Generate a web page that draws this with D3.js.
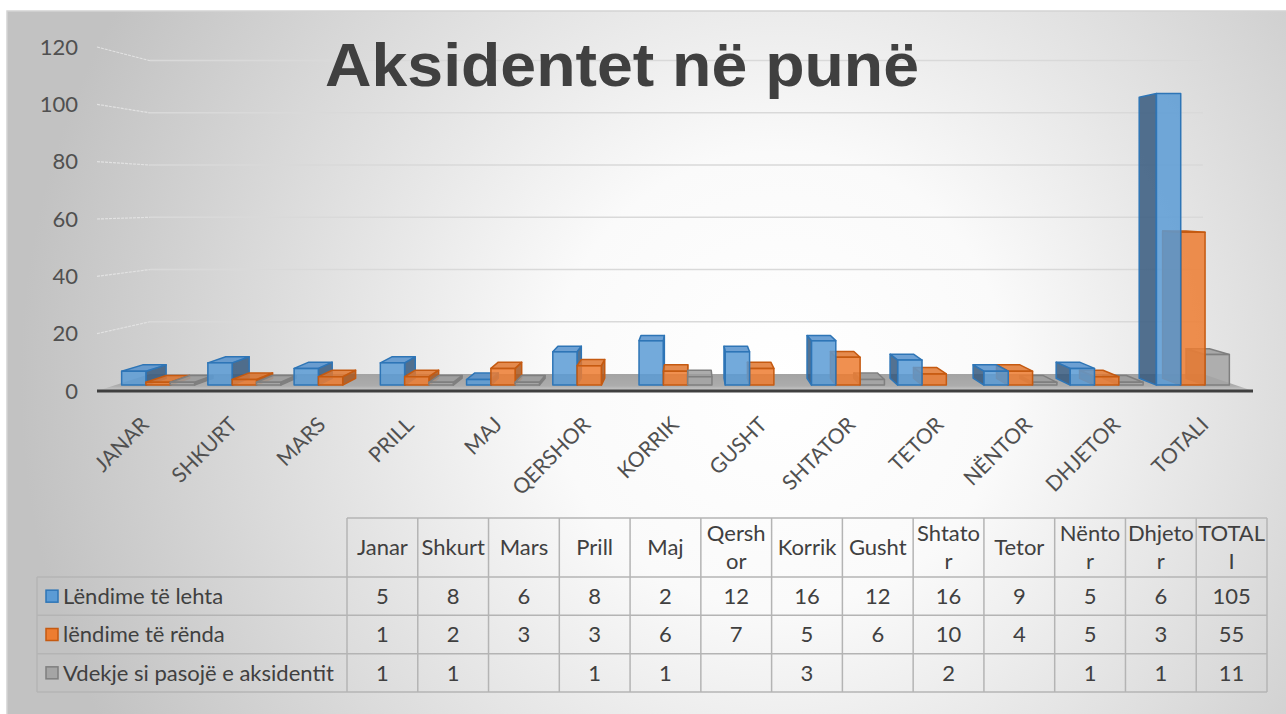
<!DOCTYPE html>
<html>
<head>
<meta charset="utf-8">
<script src="https://cdn.jsdelivr.net/npm/d3@7"></script>
<style>
  body { margin: 0; background: #fff; }
  svg { display: block; }
</style>
</head>
<body>
<svg id="chart" width="1286" height="714"></svg>
<script>
const categories = ["Janar", "Shkurt", "Mars", "Prill", "Maj", "Qershor", "Korrik", "Gusht", "Shtator", "Tetor", "Nëntor", "Dhjetor", "TOTALI"];
// header texts as wrapped in the data table
const tableHeaders = ["Janar", "Shkurt", "Mars", "Prill", "Maj", "Qersh\nor", "Korrik", "Gusht", "Shtato\nr", "Tetor", "Nënto\nr", "Dhjeto\nr", "TOTAL\nI"];
const seriesNames = ["Lëndime të lehta", "lëndime të rënda", "Vdekje si pasojë e aksidentit"];
const lehta = [5, 8, 6, 8, 2, 12, 16, 12, 16, 9, 5, 6, 105];
const renda = [1, 2, 3, 3, 6, 7, 5, 6, 10, 4, 5, 3, 55];
const vdekje = [1, 1, null, 1, 1, null, 3, null, 2, null, 1, 1, 11];
const yTicks = [0, 20, 40, 60, 80, 100, 120];

const seriesValues = [lehta, renda, vdekje];
const colors = [
    {front: "#5b9bd5", top: "#5590cc", side: "#36597e", stroke: "#2e75b6"},
    {front: "#ed7d31", top: "#e0772f", side: "#a9571f", stroke: "#c55a11"},
    {front: "#a5a5a5", top: "#9e9e9e", side: "#7a7a7a", stroke: "#7f7f7f"}
];

const svg = d3.select("#chart");

// background
const defs = svg.append("defs");
const bg = defs.append("radialGradient")
    .attr("id", "bg")
    .attr("gradientUnits", "userSpaceOnUse")
    .attr("cx", 780).attr("cy", 380).attr("r", 760);
bg.append("stop").attr("offset", "0").attr("stop-color", "#ffffff");
bg.append("stop").attr("offset", "0.3").attr("stop-color", "#fafafa");
bg.append("stop").attr("offset", "1").attr("stop-color", "#c2c2c2");

const floorGrad = defs.append("linearGradient")
    .attr("id", "floor").attr("x1", 0).attr("y1", 0).attr("x2", 0).attr("y2", 1);
floorGrad.append("stop").attr("offset", "0").attr("stop-color", "#a3a3a3");
floorGrad.append("stop").attr("offset", "0.7").attr("stop-color", "#acacac");
floorGrad.append("stop").attr("offset", "1").attr("stop-color", "#cfcfcf");

svg.append("rect")
    .attr("x", 7).attr("y", 11)
    .attr("width", 1290).attr("height", 720)
    .attr("fill", "url(#bg)")
    .attr("stroke", "#d4d4d4")
    .attr("stroke-width", 1.5);

// perspective: vanishing point and depth factors
const vp = {x: 691, y: 200};
const sBar = 0.969;   // bar front plane
const sDepth = 0.963; // bar back relative to its front
const sWall = 0.911;  // back wall
const proj = (x, y, s) => [vp.x + (x - vp.x) * s, vp.y + (y - vp.y) * s];

const yFront = d3.scaleLinear().domain([0, 120]).range([391, 47]);
const yBar = v => proj(0, yFront(v), sBar)[1];
const yWall = v => proj(0, yFront(v), sWall)[1];

const floorLeft = 97, floorRight = 1253;
const wallLeft = proj(floorLeft, 0, sWall)[0];
const wallRight = proj(floorRight, 0, sWall)[0];

// gridlines on back wall and left side wall
const grid = svg.append("g");
yTicks.filter(v => v > 0).forEach(v => {
    grid.append("line")
        .attr("x1", floorLeft).attr("y1", yFront(v))
        .attr("x2", wallLeft).attr("y2", yWall(v))
        .attr("stroke", "#e2e2e2").attr("stroke-width", 1.2)
        .attr("stroke-dasharray", "3,1");
    grid.append("line")
        .attr("x1", wallLeft).attr("y1", yWall(v))
        .attr("x2", wallRight).attr("y2", yWall(v))
        .attr("stroke", "#d9d9d9").attr("stroke-width", 1.5);
});

// floor
svg.append("path")
    .attr("d", d3.line()([
        [floorLeft, yFront(0)], [floorRight, yFront(0)],
        [wallRight, yWall(0)], [wallLeft, yWall(0)]
    ]) + "Z")
    .attr("fill", "url(#floor)");

// title
svg.append("text")
    .attr("x", 622).attr("y", 86)
    .attr("text-anchor", "middle")
    .attr("font-family", "'Liberation Sans', Arial, sans-serif")
    .attr("font-weight", "bold")
    .attr("font-size", 61)
    .attr("textLength", 594)
    .attr("lengthAdjust", "spacingAndGlyphs")
    .attr("fill", "#404040")
    .text("Aksidentet në punë");

// y axis labels
svg.append("g").selectAll("text")
    .data(yTicks)
    .join("text")
    .attr("x", 78)
    .attr("y", d => yFront(d))
    .attr("dy", "0.35em")
    .attr("text-anchor", "end")
    .attr("font-family", "Lato, sans-serif")
    .attr("font-size", 22)
    .attr("fill", "#505050")
    .text(d => d);

// bars (x scales in the bar front plane)
const x0 = d3.scaleBand()
    .domain(categories)
    .range([115, 1236])
    .paddingInner(0.154)
    .paddingOuter(0.077);
const x1 = d3.scaleBand()
    .domain(d3.range(seriesNames.length))
    .range([0, x0.bandwidth()]);

const bars = [];
categories.forEach((c, i) => {
    seriesValues.forEach((vals, j) => {
        const v = vals[i];
        if (v == null) return;
        const xl = x0(c) + x1(j);
        bars.push({j, v, xl, xr: xl + x1.bandwidth()});
    });
});
bars.sort((a, b) => Math.abs((b.xl + b.xr) / 2 - vp.x) - Math.abs((a.xl + a.xr) / 2 - vp.x));

const barG = svg.append("g");
bars.forEach(b => {
    const col = colors[b.j];
    const yt = yBar(b.v), yb = yBar(0);
    const back = (x, y) => proj(x, y, sDepth);
    const g = barG.append("g")
        .attr("stroke", col.stroke)
        .attr("stroke-width", 1.5)
        .attr("stroke-linejoin", "round")
        .attr("fill-opacity", 0.85);
    if (b.xr < vp.x) {
        g.append("path")
            .attr("d", d3.line()([[b.xr, yt], [b.xr, yb], back(b.xr, yb), back(b.xr, yt)]) + "Z")
            .attr("fill", col.side);
    } else if (b.xl > vp.x) {
        g.append("path")
            .attr("d", d3.line()([[b.xl, yt], [b.xl, yb], back(b.xl, yb), back(b.xl, yt)]) + "Z")
            .attr("fill", col.side);
    }
    if (yt > vp.y) {
        g.append("path")
            .attr("d", d3.line()([[b.xl, yt], [b.xr, yt], back(b.xr, yt), back(b.xl, yt)]) + "Z")
            .attr("fill", col.top);
    }
    g.append("rect")
        .attr("x", b.xl).attr("y", yt)
        .attr("width", b.xr - b.xl).attr("height", yb - yt)
        .attr("fill", col.front);
});

// floor front edge
svg.append("line")
    .attr("x1", floorLeft).attr("y1", yFront(0))
    .attr("x2", floorRight).attr("y2", yFront(0))
    .attr("stroke", "#3f3f3f").attr("stroke-width", 3);

// category axis labels
const xLabel = d3.scaleBand().domain(categories).range([106, 1254]);
svg.append("g").selectAll("text")
    .data(categories)
    .join("text")
    .attr("transform", d => `translate(${xLabel(d) + xLabel.bandwidth() / 2},426) rotate(-45)`)
    .attr("text-anchor", "end")
    .attr("font-family", "Lato, sans-serif")
    .attr("font-size", 21)
    .attr("fill", "#505050")
    .text(d => d.toUpperCase());

// data table
const tx = d3.scaleBand().domain(categories).range([347, 1267]);
const ty = d3.scaleBand().domain(seriesNames).range([577, 692]);
const headTop = 518, labelLeft = 37;
const tableStroke = "#b4b4b4";
const table = svg.append("g")
    .attr("font-family", "Lato, sans-serif")
    .attr("font-size", 22)
    .attr("fill", "#404040");

const lines = table.append("g").attr("stroke", tableStroke).attr("stroke-width", 1.5);
lines.append("line").attr("x1", tx.range()[0]).attr("x2", tx.range()[1]).attr("y1", headTop).attr("y2", headTop);
lines.append("line").attr("x1", labelLeft).attr("x2", tx.range()[1]).attr("y1", ty.range()[0]).attr("y2", ty.range()[0]);
seriesNames.forEach(s => {
    lines.append("line").attr("x1", labelLeft).attr("x2", tx.range()[1])
        .attr("y1", ty(s) + ty.bandwidth()).attr("y2", ty(s) + ty.bandwidth());
});
lines.append("line").attr("x1", labelLeft).attr("x2", labelLeft).attr("y1", ty.range()[0]).attr("y2", ty.range()[1]);
categories.forEach(c => {
    lines.append("line").attr("x1", tx(c)).attr("x2", tx(c)).attr("y1", headTop).attr("y2", ty.range()[1]);
});
lines.append("line").attr("x1", tx.range()[1]).attr("x2", tx.range()[1]).attr("y1", headTop).attr("y2", ty.range()[1]);

// header cells
const headMid = (headTop + ty.range()[0]) / 2;
categories.forEach((c, i) => {
    const parts = tableHeaders[i].split("\n");
    const t = table.append("text")
        .attr("text-anchor", "middle")
        .attr("x", tx(c) + tx.bandwidth() / 2);
    parts.forEach((p, k) => {
        t.append("tspan")
            .attr("x", tx(c) + tx.bandwidth() / 2)
            .attr("y", headMid + (k - (parts.length - 1) / 2) * 28)
            .attr("dy", "0.35em")
            .text(p);
    });
});

// row labels with legend keys, and values
seriesNames.forEach((s, j) => {
    const cy = ty(s) + ty.bandwidth() / 2;
    table.append("rect")
        .attr("x", 46).attr("y", cy - 6)
        .attr("width", 12).attr("height", 12)
        .attr("fill", colors[j].front)
        .attr("stroke", colors[j].stroke)
        .attr("stroke-width", 1.5);
    table.append("text")
        .attr("x", 63).attr("y", cy).attr("dy", "0.35em")
        .text(s);
    categories.forEach((c, i) => {
        const v = seriesValues[j][i];
        if (v == null) return;
        table.append("text")
            .attr("x", tx(c) + tx.bandwidth() / 2)
            .attr("y", cy).attr("dy", "0.35em")
            .attr("text-anchor", "middle")
            .text(v);
    });
});
</script>
</body>
</html>
